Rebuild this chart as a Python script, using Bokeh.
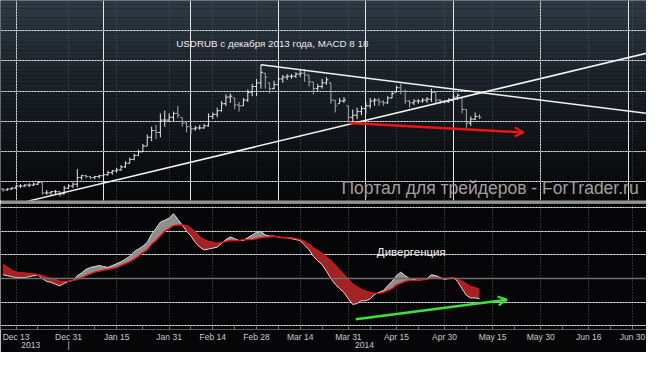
import numpy as np
import pandas as pd
from bokeh.plotting import figure
from bokeh.layouts import column
from bokeh.models import (Range1d, FixedTicker, Grid, Label, Arrow, OpenHead,
                          BoxAnnotation, Span, ColumnDataSource, LinearAxis)
from bokeh.embed import file_html
from bokeh.resources import INLINE

# ---------------- data ----------------
first_bar = "2013-12-10"          # first trading day shown
origin = "2013-12-13"             # trading-day index origin (first tick)

high = [32.79, 32.79, 32.82, 32.89, 32.92, 32.92, 32.95, 32.98, 33.01, 33.01,
        32.73, 32.70, 32.73, 32.70, 32.86, 32.92, 32.98, 33.42, 33.23, 33.23,
        33.20, 33.20, 33.23, 33.30, 33.36, 33.39, 33.46, 33.55, 33.68, 33.80,
        33.93, 34.06, 34.25, 34.56, 34.82, 34.88, 35.26, 35.35, 35.26, 35.32,
        35.51, 35.13, 34.97, 34.85, 34.85, 34.88, 34.91, 35.26, 35.29, 35.45,
        35.67, 35.89, 35.92, 35.77, 35.64, 35.77, 36.05, 36.24, 36.40, 36.87,
        36.59, 36.27, 36.34, 36.46, 36.53, 36.56, 36.56, 36.62, 36.68, 36.72,
        36.53, 36.30, 36.24, 36.40, 36.46, 36.27, 35.70, 35.77, 35.80, 35.51,
        35.39, 35.45, 35.51, 35.64, 35.77, 35.77, 35.77, 35.70, 35.83, 35.99,
        36.18, 36.24, 36.05, 35.70, 35.73, 35.73, 35.77, 35.80, 36.08, 35.96,
        35.73, 35.70, 35.77, 35.86, 35.92, 35.77, 35.39, 35.16, 35.29, 35.23]
low = [32.67, 32.70, 32.73, 32.76, 32.79, 32.82, 32.82, 32.86, 32.89, 32.57,
       32.57, 32.57, 32.60, 32.51, 32.58, 32.76, 32.79, 32.82, 33.05, 33.11,
       33.08, 33.08, 33.11, 32.98, 33.20, 33.23, 33.30, 33.36, 33.46, 33.61,
       33.71, 33.87, 33.99, 34.18, 34.34, 34.41, 34.47, 34.82, 34.97, 35.01,
       35.10, 34.82, 34.63, 34.56, 34.69, 34.72, 34.75, 34.82, 35.07, 35.13,
       35.32, 35.51, 35.61, 35.39, 35.32, 35.51, 35.64, 35.83, 35.83, 36.08,
       36.08, 35.92, 36.05, 36.21, 36.27, 36.37, 36.40, 36.43, 36.46, 36.30,
       36.15, 35.89, 35.99, 36.08, 36.21, 35.58, 35.29, 35.58, 35.61, 34.97,
       34.94, 35.07, 35.20, 35.26, 35.42, 35.51, 35.51, 35.51, 35.58, 35.77,
       35.96, 35.89, 35.58, 35.45, 35.54, 35.58, 35.61, 35.61, 35.64, 35.58,
       35.58, 35.58, 35.61, 35.64, 35.70, 35.26, 34.78, 34.85, 35.04, 35.07]
open_ = [32.76, 32.73, 32.76, 32.79, 32.86, 32.86, 32.89, 32.89, 32.92, 32.98,
         32.63, 32.63, 32.67, 32.67, 32.60, 32.79, 32.86, 32.92, 33.14, 33.20,
         33.17, 33.14, 33.17, 33.20, 33.23, 33.30, 33.36, 33.39, 33.49, 33.61,
         33.74, 33.87, 33.99, 34.18, 34.47, 34.69, 34.63, 35.04, 35.04, 35.13,
         35.26, 35.13, 34.94, 34.82, 34.75, 34.78, 34.78, 34.85, 35.16, 35.23,
         35.35, 35.58, 35.80, 35.77, 35.54, 35.51, 35.70, 35.96, 36.15, 36.27,
         36.59, 36.27, 36.08, 36.21, 36.40, 36.46, 36.49, 36.49, 36.56, 36.59,
         36.53, 36.30, 36.08, 36.15, 36.27, 36.27, 35.70, 35.58, 35.67, 35.51,
         35.13, 35.20, 35.32, 35.42, 35.51, 35.67, 35.70, 35.64, 35.61, 35.77,
         35.96, 36.11, 35.99, 35.67, 35.61, 35.67, 35.67, 35.70, 35.73, 35.96,
         35.70, 35.67, 35.64, 35.70, 35.80, 35.77, 35.39, 34.94, 35.07, 35.16]
close = [32.73, 32.76, 32.79, 32.86, 32.86, 32.89, 32.89, 32.92, 32.98, 32.63,
         32.63, 32.67, 32.67, 32.57, 32.79, 32.86, 32.92, 33.14, 33.20, 33.17,
         33.14, 33.17, 33.20, 33.23, 33.30, 33.36, 33.39, 33.49, 33.61, 33.74,
         33.87, 33.99, 34.18, 34.47, 34.69, 34.63, 35.04, 35.04, 35.13, 35.26,
         35.20, 34.94, 34.82, 34.75, 34.78, 34.78, 34.85, 35.16, 35.23, 35.35,
         35.58, 35.80, 35.83, 35.54, 35.51, 35.70, 35.96, 36.15, 36.27, 36.62,
         36.46, 36.08, 36.21, 36.40, 36.46, 36.49, 36.49, 36.56, 36.59, 36.53,
         36.30, 36.08, 36.15, 36.27, 36.37, 35.70, 35.51, 35.67, 35.70, 35.13,
         35.20, 35.32, 35.42, 35.51, 35.67, 35.70, 35.64, 35.61, 35.77, 35.92,
         36.11, 35.99, 35.67, 35.61, 35.67, 35.67, 35.70, 35.73, 35.96, 35.70,
         35.67, 35.64, 35.70, 35.80, 35.86, 35.39, 34.94, 35.07, 35.16, 35.13]

macd = [0.016, 0.012, 0.008, 0.004, 0.004, 0.004, 0.008, 0.012, 0.016, 0.000,
        -0.012, -0.016, -0.024, -0.031, -0.020, -0.012, -0.008, 0.012, 0.024, 0.039,
        0.047, 0.051, 0.055, 0.051, 0.047, 0.055, 0.063, 0.071, 0.082, 0.094,
        0.114, 0.125, 0.137, 0.153, 0.188, 0.212, 0.239, 0.247, 0.255, 0.275,
        0.251, 0.227, 0.200, 0.180, 0.153, 0.133, 0.122, 0.125, 0.129, 0.133,
        0.149, 0.165, 0.176, 0.169, 0.161, 0.161, 0.173, 0.184, 0.196, 0.200,
        0.184, 0.180, 0.180, 0.176, 0.173, 0.173, 0.169, 0.165, 0.161, 0.141,
        0.122, 0.094, 0.075, 0.059, 0.031, 0.000, -0.024, -0.043, -0.059, -0.086,
        -0.110, -0.106, -0.094, -0.094, -0.086, -0.067, -0.059, -0.051, -0.031, -0.012,
        0.012, 0.027, 0.012, 0.000, -0.004, -0.008, -0.004, 0.000, 0.016, 0.012,
        0.004, -0.004, 0.000, 0.004, -0.012, -0.043, -0.071, -0.082, -0.082, -0.086]
signal = [0.059, 0.047, 0.035, 0.027, 0.024, 0.024, 0.020, 0.020, 0.016, 0.012,
          0.004, 0.000, -0.004, -0.012, -0.012, -0.012, -0.008, -0.004, 0.004, 0.012,
          0.020, 0.027, 0.031, 0.035, 0.039, 0.043, 0.047, 0.055, 0.063, 0.071,
          0.082, 0.094, 0.110, 0.122, 0.145, 0.161, 0.180, 0.200, 0.212, 0.224,
          0.227, 0.227, 0.224, 0.212, 0.196, 0.176, 0.165, 0.157, 0.153, 0.149,
          0.153, 0.157, 0.161, 0.161, 0.161, 0.165, 0.165, 0.165, 0.169, 0.173,
          0.176, 0.176, 0.180, 0.176, 0.173, 0.173, 0.173, 0.169, 0.165, 0.157,
          0.145, 0.129, 0.118, 0.106, 0.090, 0.075, 0.055, 0.035, 0.016, -0.004,
          -0.024, -0.035, -0.047, -0.055, -0.059, -0.063, -0.063, -0.059, -0.051, -0.043,
          -0.027, -0.020, -0.012, -0.008, -0.008, -0.008, -0.004, -0.004, 0.004, 0.004,
          0.000, 0.000, 0.000, 0.004, -0.004, -0.012, -0.024, -0.035, -0.039, -0.047]

tick_dates = ["2013-12-13", "2013-12-31", "2014-01-15", "2014-01-31", "2014-02-14",
              "2014-02-28", "2014-03-14", "2014-03-31", "2014-04-15", "2014-04-30",
              "2014-05-15", "2014-05-30", "2014-06-16", "2014-06-30"]
tick_labels = ["Dec 13", "Dec 31", "Jan 15", "Jan 31", "Feb 14", "Feb 28", "Mar 14",
               "Mar 31", "Apr 15", "Apr 30", "May 15", "May 30", "Jun 16", "Jun 30"]
minor_dates = ["2013-12-20", "2014-01-08", "2014-01-23", "2014-02-07", "2014-02-21",
               "2014-03-07", "2014-03-21", "2014-04-07", "2014-04-22", "2014-05-07",
               "2014-05-22", "2014-06-06", "2014-06-23"]
year_labels = ["2013", "|", "2014"]
year_pos = [3.35, 12.0, 79.7]

price_grid = [33, 34, 35, 36, 37, 38]
macd_grid = [-0.2, -0.1, 0.1, 0.2, 0.3]

# trend lines (trading-day index, price)
down_line_x, down_line_y = [56.0, 144.2], [36.87, 35.26]
up_line_x, up_line_y = [2.46, 144.2], [32.35, 37.25]
red_arrow = (76.3, 34.94, 116.1, 34.63)
green_arrow = (77.7, -0.173, 112.3, -0.090)

# ---------------- derived positions ----------------
dates = pd.bdate_range(first_bar, periods=len(close))
bx = np.busday_count(origin, dates.values.astype("datetime64[D]")).astype(float)
ticks = [int(np.busday_count(origin, d)) for d in tick_dates]
minor = [int(np.busday_count(origin, d)) for d in minor_dates]

X0, X1 = -3.57, 144.2
xr = Range1d(X0, X1)
W = 646
TOP_H = 203
BOT_H = 149

# ---------------- top panel ----------------
top = figure(width=W, height=TOP_H, x_range=xr, y_range=Range1d(32.38, 38.994),
             x_axis_location=None, y_axis_location=None, toolbar_location=None,
             output_backend="svg", min_border_left=0, min_border_right=0,
             min_border_top=0, min_border_bottom=3, border_fill_color="#8f948f",
             background_fill_color="#08080b", outline_line_color=None)

# gradient background bands
nb = 48
y0, y1 = 32.38, 38.994
c_top = np.array([46, 59, 70])
c_bot = np.array([8, 8, 11])
for i in range(nb):
    f = (i + 0.5) / nb
    c = (c_bot + (c_top - c_bot) * f ** 1.25).astype(int)
    top.add_layout(BoxAnnotation(bottom=y0 + (y1 - y0) * i / nb,
                                 top=y0 + (y1 - y0) * (i + 1) / nb,
                                 fill_color="#%02x%02x%02x" % tuple(c), fill_alpha=1,
                                 line_color=None, level="image"))

xticker = FixedTicker(ticks=ticks, minor_ticks=minor)
top.add_layout(Grid(dimension=0, ticker=xticker, grid_line_color="#4a545c",
                    grid_line_dash="1 2", grid_line_width=1))
top.add_layout(Grid(dimension=1, ticker=FixedTicker(ticks=price_grid),
                    grid_line_color="#4a545c", grid_line_dash="1 2", grid_line_width=1))

up = [c >= o for o, c in zip(open_, close)]
src = ColumnDataSource(dict(x=bx, h=high, l=low, o=open_, c=close,
                            xl=bx - 0.45, xr_=bx + 0.45,
                            col=["#e8e8e8" if u else "#a8a8a8" for u in up]))
top.segment(x0="x", y0="l", x1="x", y1="h", color="col", line_width=1, source=src)
top.segment(x0="xl", y0="o", x1="x", y1="o", color="col", line_width=1, source=src)
top.segment(x0="x", y0="c", x1="xr_", y1="c", color="col", line_width=1, source=src)

top.line(down_line_x, down_line_y, line_color="#f2f2f2", line_width=1.5)
top.line(up_line_x, up_line_y, line_color="#f2f2f2", line_width=1.5)

top.add_layout(Arrow(end=OpenHead(size=9, line_color="#f01414", line_width=2),
                     x_start=red_arrow[0], y_start=red_arrow[1],
                     x_end=red_arrow[2], y_end=red_arrow[3],
                     line_color="#f01414", line_width=2.5))

top.add_layout(Label(x=58.6, y=37.57, text="USDRUB с декабря 2013 года, MACD 8 18",
                     text_font="Liberation Sans", text_font_size="9.8px",
                     text_color="#ececec", text_align="center", text_baseline="middle"))
top.add_layout(Label(x=142.4, y=32.79, text="Портал для трейдеров - ForTrader.ru",
                     text_font="Liberation Sans", text_font_size="17.5px",
                     text_color="#a49e9a", text_align="right", text_baseline="middle"))

# ---------------- bottom panel (MACD) ----------------
bot = figure(width=W, height=BOT_H, x_range=xr, y_range=Range1d(-0.216, 0.318),
             x_axis_location="below", y_axis_location=None, toolbar_location=None,
             output_backend="svg", min_border_left=0, min_border_right=0,
             min_border_top=0, min_border_bottom=18, border_fill_color="#060608",
             background_fill_color="#060608", outline_line_color=None)

bot.xaxis.ticker = xticker
bot.xaxis.major_label_overrides = {t: lab for t, lab in zip(ticks, tick_labels)}
bot.xaxis.major_label_text_font = "Liberation Sans"
bot.xaxis.major_label_text_font_size = "8.5px"
bot.xaxis.major_label_text_color = "#c8c8c8"
bot.xaxis.major_label_standoff = 2
bot.xaxis.axis_line_color = "#5a5a5a"
bot.xaxis.major_tick_line_color = "#777777"
bot.xaxis.minor_tick_line_color = "#777777"
bot.xaxis.major_tick_in = 3
bot.xaxis.major_tick_out = 0
bot.xaxis.minor_tick_in = 3
bot.xaxis.minor_tick_out = 0

year_axis = LinearAxis(ticker=FixedTicker(ticks=year_pos),
                       major_label_overrides={p: t for p, t in zip(year_pos, year_labels)},
                       major_label_text_font="Liberation Sans",
                       major_label_text_font_size="8.5px",
                       major_label_text_color="#c8c8c8", major_label_standoff=-5,
                       axis_line_color=None, major_tick_line_color=None,
                       minor_tick_line_color=None, major_tick_in=0, major_tick_out=0)
bot.add_layout(year_axis, "below")

bot.xgrid.ticker = xticker
bot.xgrid.grid_line_color = "#55585c"
bot.xgrid.grid_line_dash = "1 2"
bot.add_layout(Grid(dimension=1, ticker=FixedTicker(ticks=macd_grid),
                    grid_line_color="#55585c", grid_line_dash="1 2", grid_line_width=1))
bot.add_layout(Span(location=0, dimension="width", line_color="#6e6e6e", line_width=1.5))

m = np.array(macd)
s = np.array(signal)
bot.varea(x=bx, y1=s, y2=np.maximum(m, s), fill_color="#8e8e8e", fill_alpha=1)
bot.varea(x=bx, y1=np.minimum(m, s), y2=s, fill_color="#a02424", fill_alpha=1)
bot.line(bx, m, line_color="#dcdcdc", line_width=1)
bot.line(bx, s, line_color="#e81010", line_width=1.4)

bot.add_layout(Arrow(end=OpenHead(size=9, line_color="#3ee03e", line_width=2),
                     x_start=green_arrow[0], y_start=green_arrow[1],
                     x_end=green_arrow[2], y_end=green_arrow[3],
                     line_color="#3ee03e", line_width=2.5))

bot.add_layout(Label(x=90.4, y=0.114, text="Дивергенция", text_font="Liberation Sans",
                     text_font_size="11.5px", text_color="#f0f0f0",
                     text_align="center", text_baseline="middle"))

layout = column(top, bot, spacing=0)
open("out.html", "w").write(file_html(layout, INLINE))
